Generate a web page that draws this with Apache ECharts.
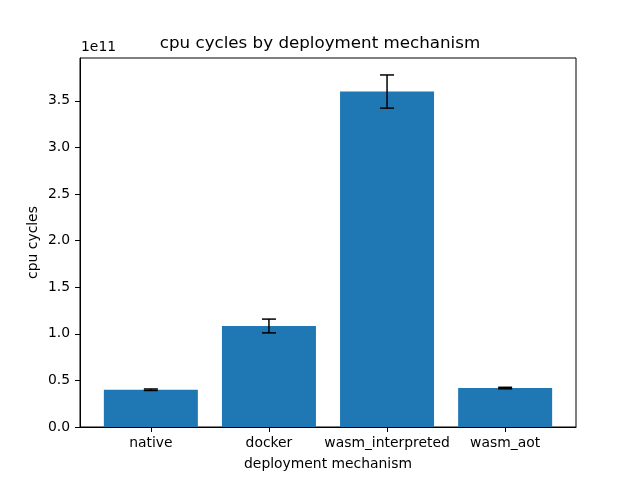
<!DOCTYPE html>
<html>
<head>
<meta charset="utf-8">
<script src="https://cdn.jsdelivr.net/npm/echarts@6/dist/echarts.min.js"></script>
<style>
  html, body { margin: 0; padding: 0; background: #fff; }
  #main { width: 640px; height: 480px; }
</style>
</head>
<body>
<div id="main"></div>
<script>
// data
var categories = ['native', 'docker', 'wasm_interpreted', 'wasm_aot'];
var cycles = [0.40e11, 1.084e11, 3.60e11, 0.418e11];
var cyclesErr = [0.008e11, 0.074e11, 0.178e11, 0.008e11];
var yTicks = [0, 0.5e11, 1.0e11, 1.5e11, 2.0e11, 2.5e11, 3.0e11, 3.5e11];

var font = 'DejaVu Sans';
var myChart = echarts.init(document.getElementById('main'));

var barData = cycles.map(function (v, i) { return [i, v]; });
var errData = cycles.map(function (v, i) { return [i, v - cyclesErr[i], v + cyclesErr[i]]; });

var option = {
    animation: false,
    title: {
        text: 'cpu cycles by deployment mechanism',
        left: 'center',
        top: 30,
        textStyle: { fontFamily: font, fontSize: 16.7, fontWeight: 'normal', color: '#000' }
    },
    graphic: [{
        type: 'text',
        left: 81,
        top: 40,
        style: { text: '1e11', font: '13.9px "DejaVu Sans"', fill: '#000' }
    }],
    grid: {
        left: 80, right: 64, top: 58, bottom: 53,
        show: true, borderColor: '#000', borderWidth: 1
    },
    xAxis: {
        type: 'value',
        min: -0.6,
        max: 3.6,
        splitLine: { show: false },
        axisLine: { show: true, onZero: false, lineStyle: { color: '#000' } },
        axisTick: { show: true, length: 5, customValues: [0, 1, 2, 3], lineStyle: { color: '#000' } },
        axisLabel: {
            customValues: [0, 1, 2, 3],
            formatter: function (v) { return categories[Math.round(v)]; },
            fontFamily: font, fontSize: 13.9, color: '#000', margin: 9
        },
        name: 'deployment mechanism',
        nameLocation: 'middle',
        nameGap: 30,
        nameMoveOverlap: false,
        nameTextStyle: { fontFamily: font, fontSize: 13.9, color: '#000' }
    },
    yAxis: {
        type: 'value',
        min: 0,
        max: 3.96e11,
        splitLine: { show: false },
        axisLine: { show: true, onZero: false, lineStyle: { color: '#000' } },
        axisTick: { show: true, length: 5, customValues: yTicks, lineStyle: { color: '#000' } },
        axisLabel: {
            customValues: yTicks,
            formatter: function (v) { return (v / 1e11).toFixed(1); },
            fontFamily: font, fontSize: 13.9, color: '#000', margin: 10
        },
        name: 'cpu cycles',
        nameLocation: 'middle',
        nameGap: 40,
        nameMoveOverlap: false,
        nameTextStyle: { fontFamily: font, fontSize: 13.9, color: '#000' }
    },
    series: [{
        type: 'bar',
        data: barData,
        barWidth: 94,
        itemStyle: { color: '#1f77b4' }
    }, {
        type: 'custom',
        data: errData,
        z: 10,
        renderItem: function (params, api) {
            var x = api.value(0);
            var lo = api.coord([x, api.value(1)]);
            var hi = api.coord([x, api.value(2)]);
            var cap = 7;
            var style = { stroke: '#000', lineWidth: 1.5 };
            return {
                type: 'group',
                children: [
                    { type: 'line', shape: { x1: lo[0], y1: lo[1], x2: hi[0], y2: hi[1] }, style: style },
                    { type: 'line', shape: { x1: lo[0] - cap, y1: lo[1], x2: lo[0] + cap, y2: lo[1] }, style: style },
                    { type: 'line', shape: { x1: hi[0] - cap, y1: hi[1], x2: hi[0] + cap, y2: hi[1] }, style: style }
                ]
            };
        }
    }]
};
myChart.setOption(option, true);
</script>
</body>
</html>
